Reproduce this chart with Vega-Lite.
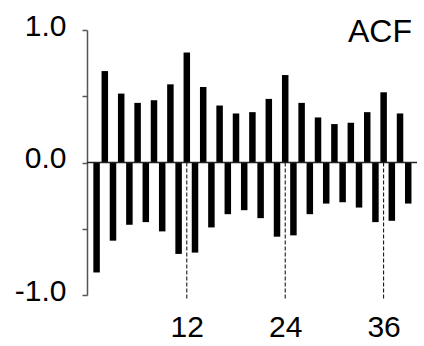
{
  "$schema": "https://vega.github.io/schema/vega-lite/v6.json",
  "width": 330,
  "height": 265,
  "autosize": {"type": "none"},
  "padding": {"left": 87, "top": 30, "right": 7, "bottom": 51},
  "background": "white",
  "config": {"view": {"stroke": null}, "font": "Liberation Sans"},
  "datasets": {
    "acf": [
      {"lag": 1, "acf": -0.83}, {"lag": 2, "acf": 0.69}, {"lag": 3, "acf": -0.59},
      {"lag": 4, "acf": 0.52}, {"lag": 5, "acf": -0.47}, {"lag": 6, "acf": 0.45},
      {"lag": 7, "acf": -0.45}, {"lag": 8, "acf": 0.47}, {"lag": 9, "acf": -0.52},
      {"lag": 10, "acf": 0.59}, {"lag": 11, "acf": -0.69}, {"lag": 12, "acf": 0.83},
      {"lag": 13, "acf": -0.68}, {"lag": 14, "acf": 0.57}, {"lag": 15, "acf": -0.49},
      {"lag": 16, "acf": 0.43}, {"lag": 17, "acf": -0.39}, {"lag": 18, "acf": 0.37},
      {"lag": 19, "acf": -0.36}, {"lag": 20, "acf": 0.38}, {"lag": 21, "acf": -0.42},
      {"lag": 22, "acf": 0.48}, {"lag": 23, "acf": -0.56}, {"lag": 24, "acf": 0.66},
      {"lag": 25, "acf": -0.55}, {"lag": 26, "acf": 0.45}, {"lag": 27, "acf": -0.39},
      {"lag": 28, "acf": 0.34}, {"lag": 29, "acf": -0.31}, {"lag": 30, "acf": 0.29},
      {"lag": 31, "acf": -0.30}, {"lag": 32, "acf": 0.30}, {"lag": 33, "acf": -0.34},
      {"lag": 34, "acf": 0.38}, {"lag": 35, "acf": -0.45}, {"lag": 36, "acf": 0.53},
      {"lag": 37, "acf": -0.44}, {"lag": 38, "acf": 0.37}, {"lag": 39, "acf": -0.31}
    ],
    "seasonal": [{"lag": 12}, {"lag": 24}, {"lag": 36}],
    "label": [{"name": "ACF"}]
  },
  "layer": [
    {
      "data": {"name": "acf"},
      "mark": {"type": "bar", "size": 6.5, "color": "black"},
      "encoding": {
        "x": {
          "field": "lag", "type": "quantitative",
          "scale": {"domain": [0.44, 39.46], "nice": false, "zero": false},
          "axis": {
            "values": [12, 24, 36], "domain": false, "ticks": false, "grid": false,
            "title": null, "labelFontSize": 30, "labelColor": "black",
            "labelPadding": 17, "labelFlush": false
          }
        },
        "y": {
          "field": "acf", "type": "quantitative",
          "scale": {"domain": [-1, 1], "nice": false},
          "axis": {
            "values": [-1, -0.5, 0, 0.5, 1], "grid": false, "title": null,
            "labelExpr": "datum.value == 1 ? '1.0' : datum.value == 0 ? '0.0' : datum.value == -1 ? '-1.0' : ''",
            "labelFontSize": 30, "labelColor": "black", "labelPadding": 16,
            "labelOffset": -4, "labelOverlap": false,
            "tickSize": 5, "tickColor": "#555", "domainColor": "#555",
            "domainWidth": 1.5, "tickWidth": 1.5
          }
        }
      }
    },
    {
      "data": {"name": "label"},
      "mark": {"type": "rule", "color": "#222", "strokeWidth": 1.5},
      "encoding": {"y": {"datum": 0}}
    },
    {
      "data": {"name": "seasonal"},
      "mark": {"type": "rule", "color": "black", "strokeWidth": 1, "strokeDash": [4, 2]},
      "encoding": {
        "x": {"field": "lag", "type": "quantitative"},
        "y": {"datum": 0},
        "y2": {"datum": -1.04}
      }
    },
    {
      "data": {"name": "label"},
      "mark": {"type": "text", "align": "right", "baseline": "alphabetic", "fontSize": 32, "color": "black", "clip": false},
      "encoding": {
        "x": {"datum": 39.46},
        "y": {"datum": 0.906},
        "text": {"field": "name", "type": "nominal"}
      }
    }
  ]
}
